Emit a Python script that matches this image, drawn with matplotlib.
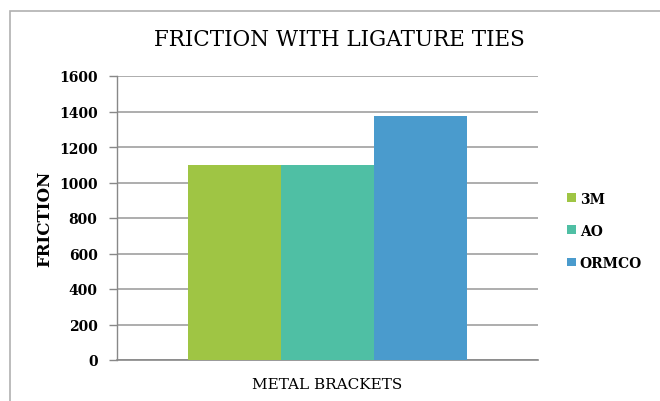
import numpy as np
import matplotlib.pyplot as plt
from matplotlib.patches import Rectangle

plt.rcParams['font.family'] = ['DejaVu Serif']

categories = ['METAL BRACKETS']
series = ['3M', 'AO', 'ORMCO']
values = [1100, 1100, 1375]
colors = ['#9fc544', '#4fbfa4', '#4a9bcd']
yticks = [0, 200, 400, 600, 800, 1000, 1200, 1400, 1600]

fig = plt.figure(figsize=(6.6, 4.02), dpi=100)
ax = fig.add_axes([117 / 660, 1 - 361 / 402, 421 / 660, 284 / 402])

# outer chart border
fig.patches.append(Rectangle((10 / 660, -0.1), 1.0, 1 - 12 / 402 + 0.1,
                             transform=fig.transFigure, fill=False,
                             edgecolor='#b0b0b0', linewidth=1.2))

w = 0.2215
x = np.arange(len(categories))
for i, (s, v, c) in enumerate(zip(series, values, colors)):
    ax.bar(x + (i - 1) * w, [v], width=w, color=c, label=s, zorder=3)

ax.set_xlim(-0.5, 0.5)
ax.set_ylim(0, 1600)
ax.set_yticks(yticks)
ax.set_yticklabels([str(t) for t in yticks], fontsize=10, fontweight='bold')
ax.set_xticks(x)
ax.set_xticklabels(categories, fontsize=11)
ax.tick_params(axis='x', length=0, pad=12)
ax.tick_params(axis='y', length=6, color='#888888', width=1, pad=8)
ax.yaxis.grid(True, color='#a0a0a0', linewidth=1.2, zorder=0)
for sp in ['top', 'right']:
    ax.spines[sp].set_visible(False)
ax.spines['left'].set_color('#888888')
ax.spines['bottom'].set_color('#888888')
ax.spines['left'].set_linewidth(1)
ax.spines['bottom'].set_linewidth(1.2)

ax.set_ylabel('FRICTION', fontsize=12, fontweight='bold', labelpad=4)
fig.text(339 / 660, 1 - 40 / 402, 'FRICTION WITH LIGATURE TIES',
         ha='center', va='center', fontsize=15.5)

ax.legend(loc='center left', bbox_to_anchor=(1.04, 0.455), frameon=False,
          handlelength=0.6, handleheight=0.6,
          handletextpad=0.3, labelspacing=1.3,
          prop={'weight': 'bold', 'size': 10})

plt.savefig('out.png', dpi=100)
